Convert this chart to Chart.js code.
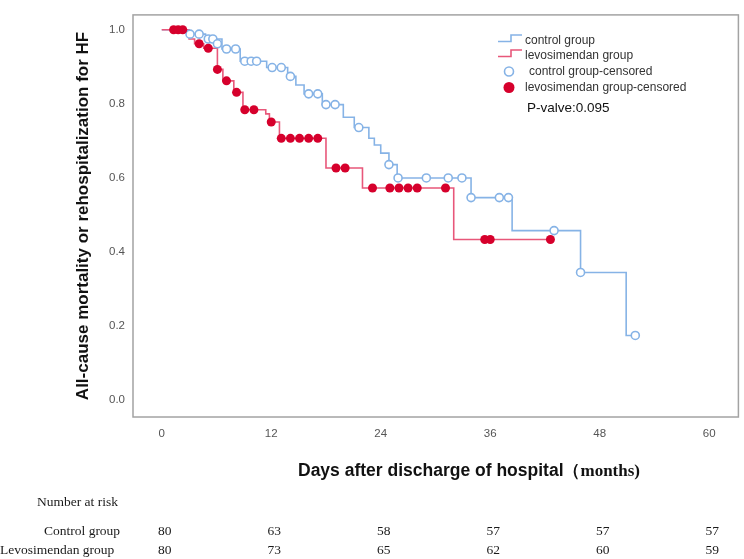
<!DOCTYPE html>
<html>
<head>
<meta charset="utf-8">
<script src="https://cdn.jsdelivr.net/npm/chart.js@4.4.0/dist/chart.umd.min.js"></script>
<style>
html, body { margin: 0; padding: 0; background: #fff; }
#wrap { width: 744px; height: 559px; position: relative; }
</style>
</head>
<body>
<div id="wrap"><canvas id="kmChart" width="744" height="559"></canvas></div>
<script>
// step curves: time (months) and survival after each step
const ctrlTime = [0, 2.8, 4.8, 6.6, 8.6, 11.5, 13.8, 14.7, 15.6, 17.6, 19.9, 21.1, 22.7, 23.3, 24.0, 24.9, 25.8, 33.9, 38.4, 45.9, 50.9, 51.9];
const ctrlSurv = [1.0, 0.988, 0.975, 0.948, 0.915, 0.898, 0.874, 0.851, 0.827, 0.798, 0.764, 0.736, 0.707, 0.689, 0.667, 0.636, 0.600, 0.547, 0.458, 0.345, 0.175, 0.175];
const levoTime = [0, 3.0, 3.6, 4.6, 6.1, 6.7, 7.9, 8.9, 11.4, 11.8, 12.9, 18.0, 22.0, 32.0, 42.6];
const levoSurv = [1.0, 0.975, 0.962, 0.950, 0.893, 0.862, 0.831, 0.784, 0.773, 0.751, 0.707, 0.627, 0.573, 0.434, 0.434];

// censored marks
const ctrlCensTime = [3.1, 4.1, 5.1, 5.6, 6.1, 7.1, 8.1, 9.1, 9.8, 10.4, 12.1, 13.1, 14.1, 16.1, 17.1, 18.0, 19.0, 21.6, 24.9, 25.9, 29.0, 31.4, 32.9, 33.9, 37.0, 38.0, 43.0, 45.9, 51.9];
const ctrlCensSurv = [0.988, 0.988, 0.975, 0.975, 0.962, 0.948, 0.948, 0.915, 0.915, 0.915, 0.898, 0.898, 0.874, 0.827, 0.827, 0.798, 0.798, 0.736, 0.636, 0.600, 0.600, 0.600, 0.600, 0.547, 0.547, 0.547, 0.458, 0.345, 0.175];
const levoCensTime = [1.3, 1.8, 2.3, 4.1, 5.1, 6.1, 7.1, 8.2, 9.1, 10.1, 12.0, 13.1, 14.1, 15.1, 16.1, 17.1, 19.1, 20.1, 23.1, 25.0, 26.0, 27.0, 28.0, 31.1, 35.4, 36.0, 42.6];
const levoCensSurv = [1.0, 1.0, 1.0, 0.962, 0.950, 0.893, 0.862, 0.831, 0.784, 0.784, 0.751, 0.707, 0.707, 0.707, 0.707, 0.707, 0.627, 0.627, 0.573, 0.573, 0.573, 0.573, 0.573, 0.573, 0.434, 0.434, 0.434];

const xTicks = [0, 12, 24, 36, 48, 60];
const yTicks = [0, 0.2, 0.4, 0.6, 0.8, 1.0];

// number at risk table
const riskTimes = [0, 12, 24, 36, 48, 60];
const riskControl = [80, 63, 58, 57, 57, 57];
const riskLevo = [80, 73, 65, 62, 60, 59];

const BLUE = '#86b3e6';
const RED_LINE = '#e8577a';
const RED_DOT = '#d6002c';
const SANS = '"Liberation Sans", Arial, sans-serif';
const SERIF = '"Liberation Serif", "Times New Roman", serif';

function toPoints(xs, ys) {
    return xs.map((x, i) => ({ x: x, y: ys[i] }));
}

const kmDecor = {
    id: 'kmDecor',
    beforeDatasetsDraw(chart) {
        const a = chart.chartArea;
        const ctx = chart.ctx;
        ctx.save();
        ctx.strokeStyle = '#a3a3a3';
        ctx.lineWidth = 1.5;
        ctx.strokeRect(a.left, a.top, a.right - a.left, a.bottom - a.top);
        ctx.restore();
    },
    afterDraw(chart) {
        const ctx = chart.ctx;
        const a = chart.chartArea;
        const xs = chart.scales.x;
        ctx.save();

        // y title
        ctx.save();
        ctx.translate(88, (a.top + a.bottom) / 2);
        ctx.rotate(-Math.PI / 2);
        ctx.fillStyle = '#111';
        ctx.font = 'bold 17px ' + SANS;
        ctx.textAlign = 'center';
        ctx.textBaseline = 'alphabetic';
        ctx.fillText('All-cause mortality or rehospitalization for HF', 0, 0);
        ctx.restore();

        // x title
        ctx.fillStyle = '#111';
        ctx.textAlign = 'left';
        ctx.textBaseline = 'alphabetic';
        ctx.font = 'bold 17.5px ' + SANS;
        const part1 = 'Days after discharge of hospital';
        ctx.fillText(part1, 298, 476);
        const w1 = ctx.measureText(part1).width;
        ctx.font = 'bold 17px ' + SERIF;
        ctx.fillText('（months)', 298 + w1, 476);

        // legend
        ctx.lineWidth = 1.6;
        ctx.font = '12px ' + SANS;
        ctx.fillStyle = '#333';
        ctx.textBaseline = 'middle';
        const rows = [40.5, 55.5, 71.5, 87.5];
        [[BLUE, rows[0]], [RED_LINE, rows[1]]].forEach(([c, y]) => {
            ctx.strokeStyle = c;
            ctx.beginPath();
            ctx.moveTo(498, y + 1);
            ctx.lineTo(511, y + 1);
            ctx.lineTo(511, y - 5.5);
            ctx.lineTo(522, y - 5.5);
            ctx.stroke();
        });
        ctx.fillText('control group', 525, rows[0]);
        ctx.fillText('levosimendan group', 525, rows[1]);
        ctx.strokeStyle = BLUE;
        ctx.fillStyle = '#fff';
        ctx.beginPath();
        ctx.arc(509, rows[2], 4.5, 0, Math.PI * 2);
        ctx.fill();
        ctx.stroke();
        ctx.fillStyle = RED_DOT;
        ctx.beginPath();
        ctx.arc(509, rows[3], 5.5, 0, Math.PI * 2);
        ctx.fill();
        ctx.fillStyle = '#333';
        ctx.fillText('control group-censored', 529, rows[2]);
        ctx.fillText('levosimendan group-censored', 525, rows[3]);
        ctx.fillStyle = '#111';
        ctx.font = '13.5px ' + SANS;
        ctx.fillText('P-valve:0.095', 527, 108);

        // number at risk
        ctx.fillStyle = '#1a1a1a';
        ctx.font = '13.5px ' + SERIF;
        ctx.textBaseline = 'middle';
        ctx.textAlign = 'left';
        ctx.fillText('Number at risk', 37, 502);
        ctx.fillText('Control group', 44, 531);
        ctx.fillText('Levosimendan group', 0, 550);
        ctx.textAlign = 'center';
        riskTimes.forEach((t, i) => {
            const px = xs.getPixelForValue(t) + 3;
            ctx.fillText(String(riskControl[i]), px, 531);
            ctx.fillText(String(riskLevo[i]), px, 550);
        });
        ctx.restore();
    }
};

const ctx = document.getElementById('kmChart').getContext('2d');
new Chart(ctx, {
    type: 'scatter',
    data: {
        datasets: [
            {
                label: 'levosimendan group-censored',
                data: toPoints(levoCensTime, levoCensSurv),
                showLine: false,
                pointRadius: 4.5,
                pointBackgroundColor: RED_DOT,
                pointBorderColor: RED_DOT,
                pointBorderWidth: 0
            },
            {
                label: 'control group-censored',
                data: toPoints(ctrlCensTime, ctrlCensSurv),
                showLine: false,
                pointRadius: 4,
                pointBackgroundColor: '#fff',
                pointBorderColor: BLUE,
                pointBorderWidth: 1.6
            },
            {
                label: 'levosimendan group',
                data: toPoints(levoTime, levoSurv),
                showLine: true,
                stepped: true,
                borderColor: RED_LINE,
                borderWidth: 1.6,
                pointRadius: 0
            },
            {
                label: 'control group',
                data: toPoints(ctrlTime, ctrlSurv),
                showLine: true,
                stepped: true,
                borderColor: BLUE,
                borderWidth: 1.6,
                pointRadius: 0
            }
        ]
    },
    options: {
        responsive: false,
        animation: false,
        devicePixelRatio: 1,
        layout: { padding: { left: 0, right: 4, top: 9, bottom: 0 } },
        plugins: { legend: { display: false }, tooltip: { enabled: false } },
        scales: {
            x: {
                type: 'linear',
                min: -3.15,
                max: 63.2,
                afterBuildTicks: s => { s.ticks = xTicks.map(v => ({ value: v })); },
                afterFit: s => { s.height = 142; },
                grid: { display: false, drawTicks: false, tickLength: 0 },
                border: { display: false },
                ticks: {
                    padding: 10,
                    color: '#555',
                    autoSkip: false,
                    maxRotation: 0,
                    font: { family: SANS, size: 11.5 },
                    callback: v => String(v)
                }
            },
            y: {
                type: 'linear',
                min: -0.045,
                max: 1.04,
                afterBuildTicks: s => { s.ticks = yTicks.map(v => ({ value: v })); },
                afterFit: s => { s.width = 133; },
                grid: { display: false, drawTicks: false, tickLength: 0 },
                border: { display: false },
                ticks: {
                    padding: 8,
                    color: '#555',
                    font: { family: SANS, size: 11.5 },
                    callback: v => Number(v).toFixed(1)
                }
            }
        }
    },
    plugins: [kmDecor]
});
</script>
</body>
</html>
